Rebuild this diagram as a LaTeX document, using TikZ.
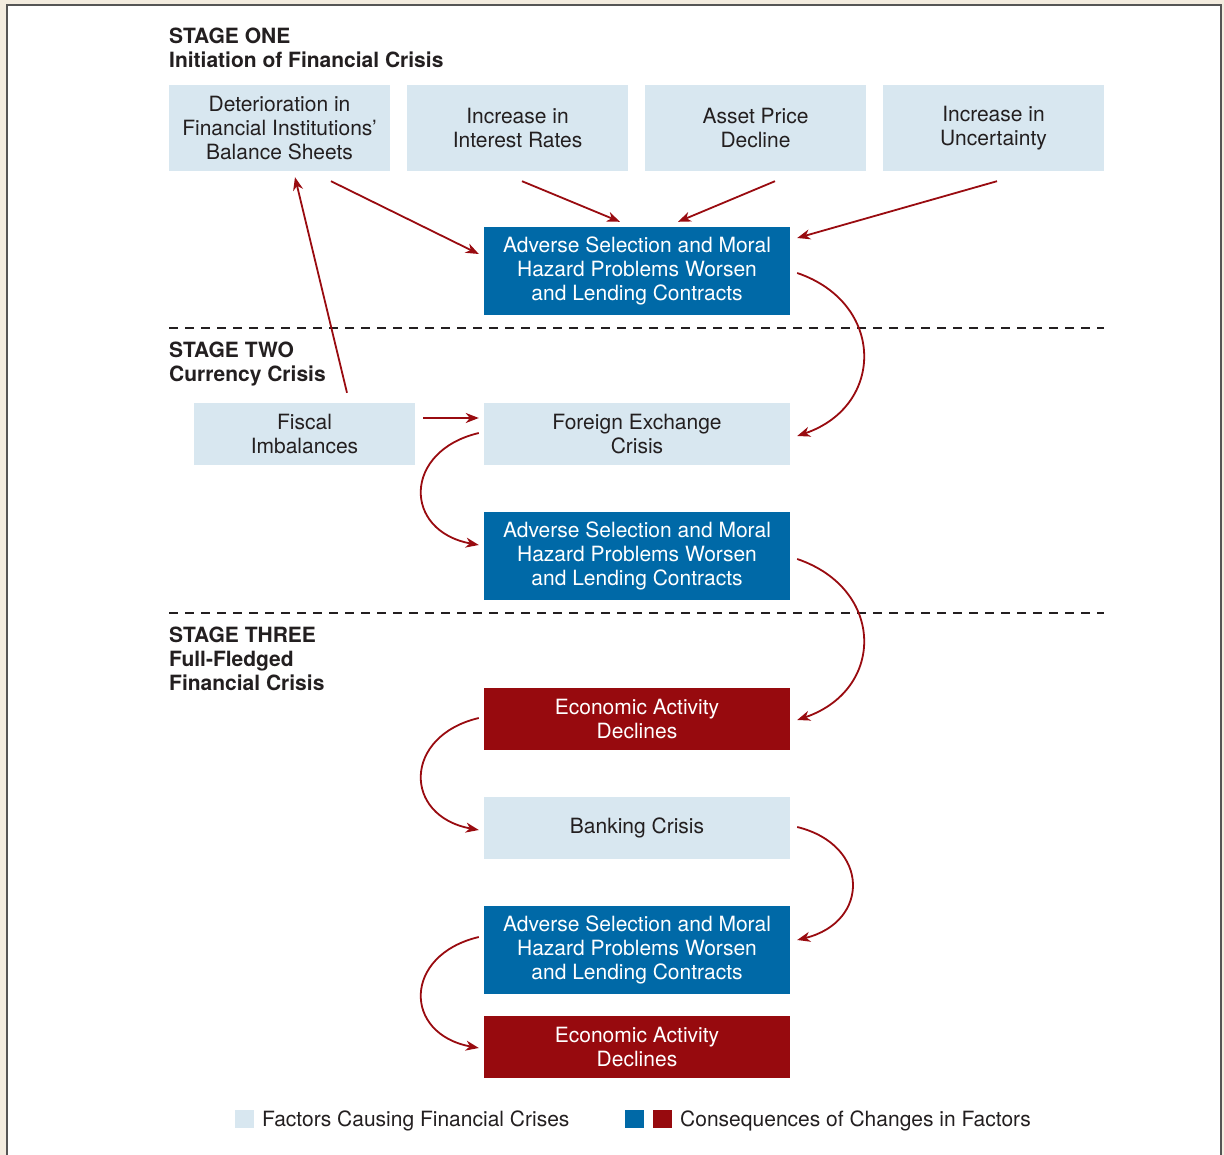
\documentclass[tikz,border=0pt]{standalone}
\usepackage{fontspec}
\setmainfont{TeX Gyre Heros}
\usetikzlibrary{arrows.meta,calc}
\definecolor{bg}{HTML}{F3ECDF}
\definecolor{lightbox}{HTML}{D8E7F0}
\definecolor{bluebox}{HTML}{0069A7}
\definecolor{redbox}{HTML}{970A0E}
\definecolor{arrowred}{HTML}{990B10}
\definecolor{framegray}{HTML}{555555}
\definecolor{textgray}{HTML}{231F20}
\begin{document}
\begin{tikzpicture}[x=1pt,y=-1pt,
  every node/.style={font=\fontsize{21}{24}\selectfont, inner sep=0pt, align=center, text=textgray},
  factor/.style={fill=lightbox, minimum width=221pt, minimum height=86pt},
  factorlow/.style={fill=lightbox, minimum width=221pt, minimum height=62pt},
  wide/.style={fill=lightbox, minimum width=306pt, minimum height=62pt},
  conseq/.style={fill=bluebox, text=white, minimum width=306pt, minimum height=88pt},
  decline/.style={fill=redbox, text=white, minimum width=306pt, minimum height=62pt},
  stagetitle/.style={font=\fontsize{21}{24}\selectfont\bfseries, align=left, anchor=north west},
  conn/.style={draw=arrowred, line width=1.8pt, -{Stealth[length=13pt,width=10pt,inset=4pt]}},
  divider/.style={draw=textgray, line width=2.2pt, dash pattern=on 9pt off 7pt},
  legendsq/.style={minimum width=19pt, minimum height=18pt}
]
\useasboundingbox (0,0) rectangle (1224,1155);
\clip (0,0) rectangle (1224,1155);
\fill[bg] (0,0) rectangle (1224,1155);
\draw[framegray, line width=1.5pt, fill=white] (7,5) rectangle (1221,1180);

% stage titles
\node[stagetitle] (s1) at (169,28) {STAGE ONE\\Initiation of Financial Crisis};
\node[stagetitle] (s2) at (169,342) {STAGE TWO\\Currency Crisis};
\node[stagetitle] (s3) at (169,627) {STAGE THREE\\Full-Fledged\\Financial Crisis};

% dividers
\draw[divider] (169,328) -- (1104,328);
\draw[divider] (169,613) -- (1104,613);

% stage one
\node[factor] (det) at (279.5,128) {Deterioration in\\Financial Institutions'\\Balance Sheets};
\node[factor] (int) at (517.5,128) {Increase in\\Interest Rates};
\node[factor] (asset) at (755.5,128) {Asset Price\\Decline};
\node[factor] (unc) at (993.5,128) {Increase in\\Uncertainty};
\node[conseq] (asm1) at (637,271) {Adverse Selection and Moral\\Hazard Problems Worsen\\and Lending Contracts};

% stage two
\node[factorlow] (fiscal) at (304.5,434) {Fiscal\\Imbalances};
\node[wide] (fx) at (637,434) {Foreign Exchange\\Crisis};
\node[conseq] (asm2) at (637,556) {Adverse Selection and Moral\\Hazard Problems Worsen\\and Lending Contracts};

% stage three
\node[decline] (ead1) at (637,719) {Economic Activity\\Declines};
\node[wide] (bank) at (637,828) {Banking Crisis};
\node[conseq] (asm3) at (637,950) {Adverse Selection and Moral\\Hazard Problems Worsen\\and Lending Contracts};
\node[decline] (ead2) at (637,1047) {Economic Activity\\Declines};

% straight connectors
\draw[conn] ([shift={(51.5,10)}]det.south) -- ([shift={(-5,-17)}]asm1.west);
\draw[conn] ([shift={(4.5,10)}]int.south) -- ([shift={(-17,-5)}]asm1.north);
\draw[conn] ([shift={(19.5,10)}]asset.south) -- ([shift={(41,-5)}]asm1.north);
\draw[conn] ([shift={(3.5,10)}]unc.south) -- ([shift={(7,-33)}]asm1.east);
\draw[conn] ([shift={(42.5,-10)}]fiscal.north) -- ([shift={(15.5,6)}]det.south);
\draw[conn] ([shift={(8,-16)}]fiscal.east) -- ([shift={(-5,-16)}]fx.west);

% curved connectors
\draw[conn] ([shift={(7,2)}]asm1.east) .. controls ($(asm1.east)+(95,32)$) and ($(fx.east)+(95,-28)$) .. ([shift={(7,2)}]fx.east);
\draw[conn] ([shift={(-5,-1)}]fx.west) .. controls ($(fx.west)+(-81,17)$) and ($(asm2.west)+(-81,-25)$) .. ([shift={(-5,-11)}]asm2.west);
\draw[conn] ([shift={(7,3)}]asm2.east) .. controls ($(asm2.east)+(95,33)$) and ($(ead1.east)+(95,-29)$) .. ([shift={(7,1)}]ead1.east);
\draw[conn] ([shift={(-5,-1)}]ead1.west) .. controls ($(ead1.west)+(-81,17)$) and ($(bank.west)+(-81,-12)$) .. ([shift={(-5,2)}]bank.west);
\draw[conn] ([shift={(7,-1)}]bank.east) .. controls ($(bank.east)+(80,17)$) and ($(asm3.east)+(80,-28)$) .. ([shift={(7,-10)}]asm3.east);
\draw[conn] ([shift={(-5,-13)}]asm3.west) .. controls ($(asm3.west)+(-81,5)$) and ($(ead2.west)+(-81,-13)$) .. ([shift={(-5,1)}]ead2.west);

% legend
\node[legendsq, fill=lightbox] (lg1) at (244.5,1119) {};
\node[anchor=base west] (lgt1) at (262,1126) {Factors Causing Financial Crises};
\node[legendsq, fill=bluebox] (lg2) at (634.5,1119) {};
\node[legendsq, fill=redbox] (lg3) at (662.5,1119) {};
\node[anchor=base west] (lgt2) at (680,1126) {Consequences of Changes in Factors};
\end{tikzpicture}
\end{document}
